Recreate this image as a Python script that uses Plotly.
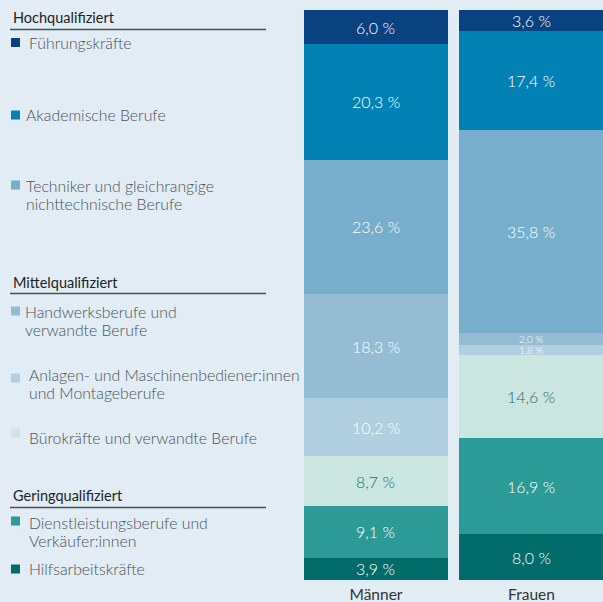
import plotly.graph_objects as go

W, H = 603, 602

groups = ["Männer", "Frauen"]
categories = [
    "Führungskräfte",
    "Akademische Berufe",
    "Techniker und gleichrangige<br>nichttechnische Berufe",
    "Handwerksberufe und<br>verwandte Berufe",
    "Anlagen- und Maschinenbediener:innen<br>und Montageberufe",
    "Bürokräfte und verwandte Berufe",
    "Dienstleistungsberufe und<br>Verkäufer:innen",
    "Hilfsarbeitskräfte",
]
maenner = [6.0, 20.3, 23.6, 18.3, 10.2, 8.7, 9.1, 3.9]
frauen = [3.6, 17.4, 35.8, 2.0, 1.8, 14.6, 16.9, 8.0]
headings = ["Hochqualifiziert", "Mittelqualifiziert", "Geringqualifiziert"]

colors = ["#0a417f", "#0282b4", "#76aecb", "#94bdd4", "#b0cfe1",
          "#cbe5e0", "#2c9b98", "#016c69"]
text_colors = ["white"] * 5 + ["#1d6f6b"] + ["white"] * 2
bg = "#e1ecf4"
FONT = "Lato, 'Open Sans', sans-serif"


def fmt(v):
    return f"{v:.1f}".replace(".", ",") + " %"


def px(x):
    return x / W


def py(y):
    return 1 - y / H


fig = go.Figure()
series = {"Männer": maenner, "Frauen": frauen}
# stack from bottom: reverse order
for i in reversed(range(len(categories))):
    vals = [maenner[i], frauen[i]]
    fig.add_trace(go.Bar(
        x=groups, y=vals, name=categories[i],
        marker=dict(color=colors[i], line=dict(width=0)),
        width=0.926,
        hoverinfo="skip", showlegend=False,
    ))

# value labels centred in each segment (data coordinates)
for g in groups:
    vals = series[g]
    for i, v in enumerate(vals):
        below = sum(vals[i + 1:])
        small = v < 3
        fig.add_annotation(x=g, y=below + v / 2, xref="x", yref="y",
                           text=fmt(v), showarrow=False, yanchor="middle",
                           font=dict(family=FONT, size=10 if small else 16,
                                     color=text_colors[i], weight=300))

# legend blocks
first_line_y = [43, 115, 185, 311, 374, 437, 522, 568]
sq_y = [42.5, 115, 185, 311, 378, 433, 521, 569]
text_x = [27, 24, 24, 23, 27, 27, 27, 27]
LINE_H = 18.8
for i, cat in enumerate(categories):
    fig.add_shape(type="rect", xref="paper", yref="paper",
                  x0=px(11), x1=px(20), y0=py(sq_y[i] - 4.5), y1=py(sq_y[i] + 4.5),
                  fillcolor=colors[i], line=dict(width=0))
    for k, line in enumerate(cat.split("<br>")):
        fig.add_annotation(xref="paper", yref="paper", x=px(text_x[i]),
                           y=py(first_line_y[i] + k * LINE_H),
                           text=line, showarrow=False, xanchor="left", yanchor="middle",
                           align="left",
                           font=dict(family=FONT, size=15.8, color="#4c5054", weight=300))

head_y = [18, 282, 495]
line_y = [29.5, 293.5, 507.5]
for h, hy, ly in zip(headings, head_y, line_y):
    fig.add_annotation(xref="paper", yref="paper", x=px(11), y=py(hy),
                       text=h, showarrow=False, xanchor="left", yanchor="middle",
                       font=dict(family=FONT, size=14.5, color="#222222"))
    fig.add_shape(type="line", xref="paper", yref="paper",
                  x0=px(10), x1=px(266), y0=py(ly), y1=py(ly),
                  line=dict(color="#4a4e52", width=1.5))

fig.update_layout(
    width=W, height=H,
    margin=dict(l=0, r=0, t=0, b=0),
    paper_bgcolor=bg, plot_bgcolor=bg,
    barmode="stack", bargap=0,
    font=dict(family=FONT),
    xaxis=dict(domain=[px(300), 1], range=[-0.4887, 1.4599],
               showgrid=False, zeroline=False, showline=False, ticks="",
               tickfont=dict(family=FONT, size=15.5, color="#333333"),
               ticklabelstandoff=3,
               automargin=False, fixedrange=True),
    yaxis=dict(domain=[py(580), py(10)], range=[0, 100.1], visible=False,
               automargin=False, fixedrange=True),
)

fig.write_html("out.html", config={"displayModeBar": False},
               post_script="document.body.style.margin='0';document.body.style.padding='0';")
